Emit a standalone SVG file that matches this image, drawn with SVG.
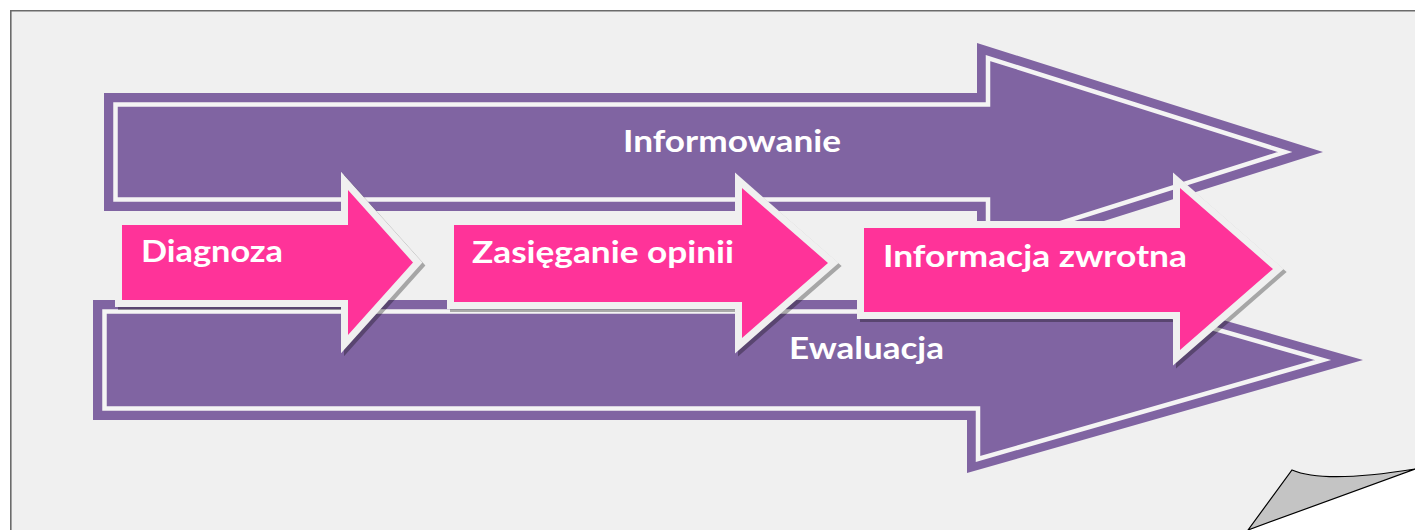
<svg xmlns="http://www.w3.org/2000/svg" width="1415" height="530" viewBox="0 0 1415 530">
<style>
.page{fill:#F0F0F0}
.border{stroke:#6B6B6B;stroke-width:1.6;fill:none}
.curl{fill:#C4C4C4;stroke:#000;stroke-width:1.2;stroke-linejoin:miter}
.pOuter{fill:#8064A2}
.pInner{fill:none;stroke:#F4F4F4;stroke-width:4.5;stroke-linejoin:miter}
.shadow{fill:#000;stroke:#000;stroke-width:14;stroke-linejoin:miter;stroke-miterlimit:6}
.pink{fill:#FF3399;stroke:#F0F0F0;stroke-width:14;stroke-linejoin:miter;stroke-miterlimit:6;paint-order:stroke}
.lbl{font-family:Lato,"Open Sans","Liberation Sans",sans-serif;font-weight:bold;font-size:31px;fill:#FFFFFF}
</style>
<rect width="1415" height="530" fill="#FFFFFF"/>
<g id="page">
<path class="page" d="M10,10 H1415 V469 L1248,530 H10 Z"/>
<path class="border" d="M10.8,530 V10.8 H1415"/>
<path class="curl" d="M1248,530 L1292,470 C1315,480 1360,478 1415,469 Z"/>
</g>
<g id="informowanie">
<path class="pOuter" d="M104,93 H977 V43 L1323,152 L977,261 V211 H104 Z"/>
<path class="pInner" d="M115.5,104.5 H988 V58 L1285,152 L988,246 V199.5 H115.5 Z"/>
<text class="lbl" x="623" y="152" textLength="218" lengthAdjust="spacingAndGlyphs">Informowanie</text>
</g>
<g id="ewaluacja">
<path class="pOuter" d="M93,300 H967 V247 L1363,360 L967,473 V420 H93 Z"/>
<path class="pInner" d="M104.5,311.5 H978 V261 L1323,360 L978,459 V408.5 H104.5 Z"/>
<text class="lbl" x="789" y="359" textLength="155" lengthAdjust="spacingAndGlyphs">Ewaluacja</text>
</g>
<g id="diagnoza">
<path class="shadow" opacity="0.3" transform="translate(3,3)" d="M122,225 H348 V190 L413,262.5 L348,335 V300 H122 Z"/>
<path class="pink" d="M122,225 H348 V190 L413,262.5 L348,335 V300 H122 Z"/>
<text class="lbl" x="141" y="262" textLength="142" lengthAdjust="spacingAndGlyphs">Diagnoza</text>
</g>
<g id="zasieganie">
<path class="shadow" opacity="0.3" transform="translate(3,3)" d="M454,225 H742 V188 L828,263 L742,338 V302 H454 Z"/>
<path class="pink" d="M454,225 H742 V188 L828,263 L742,338 V302 H454 Z"/>
<text class="lbl" x="472" y="263" textLength="262" lengthAdjust="spacingAndGlyphs">Zasięganie opinii</text>
</g>
<g id="informacja">
<path class="shadow" opacity="0.3" transform="translate(3,3)" d="M864,228 H1180 V188 L1273,269 L1180,350 V312 H864 Z"/>
<path class="pink" d="M864,228 H1180 V188 L1273,269 L1180,350 V312 H864 Z"/>
<text class="lbl" x="883" y="267" textLength="304" lengthAdjust="spacingAndGlyphs">Informacja zwrotna</text>
</g>
<g id="connectors"></g>
</svg>
